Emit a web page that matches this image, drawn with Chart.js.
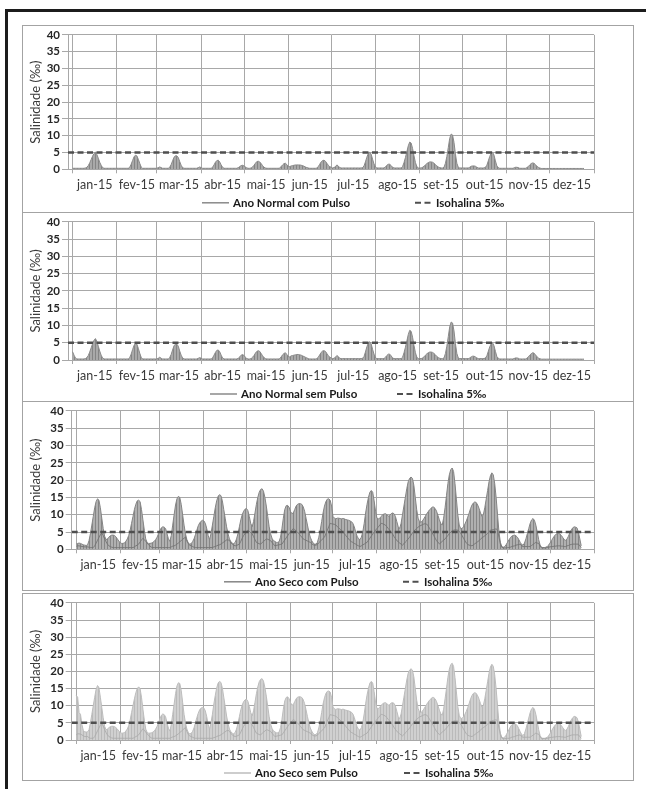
<!DOCTYPE html>
<html lang="pt">
<head>
<meta charset="utf-8">
<title>Salinidade 2015</title>
<script src="https://cdn.jsdelivr.net/npm/chart.js@4.4.1/dist/chart.umd.min.js"></script>
<style>
html,body{margin:0;padding:0;background:#fff;}
body{width:646px;height:789px;position:relative;overflow:hidden;}
#moldura{position:absolute;left:5px;top:9px;width:700px;height:800px;border-top:3px solid #1c1c1c;border-left:3px solid #1c1c1c;}
.painel{position:absolute;left:22px;width:612px;box-sizing:border-box;border:1px solid #a3a3a3;background:#fff;}
.painel canvas{display:block;}
</style>
</head>
<body>
<div id="moldura"></div>
<div class="painel" style="top:25px;height:188px"><canvas id="g1" width="610" height="186"></canvas></div>
<div class="painel" style="top:212px;height:190px"><canvas id="g2" width="610" height="188"></canvas></div>
<div class="painel" style="top:401px;height:190px"><canvas id="g3" width="610" height="188"></canvas></div>
<div class="painel" style="top:593px;height:188px"><canvas id="g4" width="610" height="186"></canvas></div>
<script>
// Eixo temporal: meses de 2015 (dia 0 = 1 de janeiro)
const meses = ['jan-15','fev-15','mar-15','abr-15','mai-15','jun-15','jul-15','ago-15','set-15','out-15','nov-15','dez-15'];
const diasNoMes = [31,28,31,30,31,30,31,31,30,31,30,31];
const isohalina = 5;

// Salinidade máxima diária (‰) — Ano Normal com Pulso
const altaNormalComPulso = [
  /* jan */ 0.3,0.3,0.3,0.3,0.3,0.3,0.3,0.3,0.3,0.4,0.6,1.1,1.9,2.9,3.9,4.7,5.1,4.4,3.3,2.1,1.2,0.5,0.3,0.3,0.3,0.3,0.3,0.3,0.3,0.3,0.3,
  /* fev */ 0.3,0.3,0.3,0.3,0.3,0.3,0.3,0.3,0.3,0.6,1.5,2.6,3.7,4.2,4.0,3.0,1.8,0.7,0.3,0.3,0.3,0.3,0.3,0.3,0.3,0.3,0.3,0.3,
  /* mar */ 0.3,0.5,0.7,0.5,0.3,0.3,0.3,0.3,0.3,0.6,1.4,2.5,3.6,4.0,4.0,3.5,2.3,1.2,0.5,0.3,0.3,0.3,0.3,0.3,0.3,0.3,0.3,0.3,0.3,0.5,0.7,
  /* abr */ 0.5,0.3,0.3,0.3,0.3,0.3,0.3,0.3,0.6,1.3,2.1,2.6,2.7,2.2,1.3,0.6,0.3,0.3,0.3,0.3,0.3,0.3,0.3,0.3,0.3,0.3,0.5,0.8,1.1,1.2,
  /* mai */ 1.0,0.7,0.4,0.3,0.3,0.4,0.7,1.2,1.8,2.3,2.4,2.2,1.7,1.1,0.6,0.4,0.3,0.3,0.3,0.3,0.3,0.3,0.3,0.3,0.3,0.4,0.8,1.3,1.7,1.8,1.4,
  /* jun */ 0.9,0.8,1.0,1.1,1.2,1.3,1.3,1.3,1.3,1.2,1.1,0.9,0.7,0.5,0.4,0.3,0.3,0.3,0.3,0.3,0.4,0.8,1.5,2.2,2.6,2.7,2.4,1.8,1.2,0.8,
  /* jul */ 0.6,0.4,0.5,0.8,1.3,1.0,0.5,0.4,0.4,0.4,0.4,0.4,0.4,0.4,0.4,0.4,0.4,0.4,0.4,0.4,0.4,0.4,0.5,1.0,2.2,3.6,4.7,5.1,4.5,3.0,1.6,
  /* ago */ 0.7,0.4,0.4,0.4,0.4,0.4,0.4,0.7,1.2,1.5,1.5,1.1,0.6,0.4,0.4,0.4,0.4,0.4,0.4,0.8,2.0,3.5,5.2,7.0,8.1,7.8,6.2,4.0,2.0,0.8,0.4,
  /* set */ 0.4,0.4,0.6,0.9,1.3,1.7,2.0,2.2,2.2,2.1,1.8,1.4,1.0,0.7,0.5,0.4,0.4,0.6,1.8,3.8,6.5,9.2,10.5,10.2,8.0,4.5,1.8,0.6,0.4,0.4,
  /* out */ 0.4,0.4,0.4,0.4,0.4,0.6,0.9,1.0,1.0,0.9,0.6,0.4,0.4,0.4,0.4,0.4,0.6,1.2,2.5,3.8,4.8,5.1,4.2,2.5,1.0,0.5,0.3,0.3,0.3,0.3,0.3,
  /* nov */ 0.3,0.3,0.3,0.3,0.3,0.4,0.6,0.6,0.5,0.3,0.3,0.3,0.3,0.3,0.5,0.8,1.3,1.7,1.9,1.8,1.4,0.9,0.6,0.4,0.25,0.25,0.25,0.25,0.25,0.25,
  /* dez */ 0.25,0.25,0.25,0.25,0.25,0.25,0.25,0.25,0.25,0.25,0.25,0.25,0.25,0.25,0.25,0.25,0.25,0.25,0.25,0.25,0.25,0.25,0.25,0.25,0.25
];

// Salinidade máxima diária (‰) — Ano Normal sem Pulso
const altaNormalSemPulso = [
  /* jan */ 2.4,1.4,0.6,0.3,0.3,0.3,0.3,0.3,0.3,0.4,0.7,1.3,2.3,3.5,4.7,5.7,6.2,5.4,4.0,2.6,1.4,0.6,0.3,0.3,0.3,0.3,0.3,0.3,0.3,0.3,0.3,
  /* fev */ 0.3,0.3,0.3,0.3,0.3,0.3,0.3,0.3,0.3,0.7,1.7,3.0,4.2,4.8,4.6,3.4,2.0,0.8,0.3,0.3,0.3,0.3,0.3,0.3,0.3,0.3,0.3,0.3,
  /* mar */ 0.3,0.5,0.8,0.5,0.3,0.3,0.3,0.3,0.3,0.7,1.6,2.9,4.1,4.6,4.6,4.0,2.6,1.4,0.6,0.3,0.3,0.3,0.3,0.3,0.3,0.3,0.3,0.3,0.3,0.5,0.7,
  /* abr */ 0.5,0.3,0.3,0.3,0.3,0.3,0.3,0.3,0.6,1.4,2.2,2.8,2.9,2.4,1.4,0.6,0.3,0.3,0.3,0.3,0.3,0.3,0.3,0.3,0.3,0.3,0.5,0.9,1.4,1.6,
  /* mai */ 1.3,0.8,0.4,0.3,0.3,0.4,0.8,1.3,2.0,2.5,2.7,2.5,1.9,1.2,0.7,0.4,0.3,0.3,0.3,0.3,0.3,0.3,0.3,0.3,0.3,0.4,0.9,1.5,1.9,2.1,1.6,
  /* jun */ 1.0,0.9,1.2,1.3,1.4,1.5,1.6,1.6,1.5,1.4,1.2,1.0,0.8,0.6,0.4,0.3,0.3,0.3,0.3,0.3,0.4,0.8,1.5,2.2,2.6,2.7,2.5,1.9,1.3,0.8,
  /* jul */ 0.6,0.4,0.5,0.8,1.3,1.0,0.5,0.4,0.4,0.4,0.4,0.4,0.4,0.4,0.4,0.4,0.4,0.4,0.4,0.4,0.4,0.4,0.5,1.0,2.3,3.8,4.9,5.3,4.7,3.1,1.7,
  /* ago */ 0.7,0.4,0.4,0.4,0.4,0.4,0.4,0.8,1.3,1.7,1.7,1.2,0.6,0.4,0.4,0.4,0.4,0.4,0.4,0.8,2.1,3.7,5.5,7.4,8.6,8.3,6.6,4.2,2.1,0.8,0.4,
  /* set */ 0.4,0.4,0.6,0.9,1.4,1.8,2.1,2.3,2.3,2.2,1.9,1.5,1.0,0.7,0.5,0.4,0.4,0.6,1.9,4.0,6.8,9.6,11.0,10.7,8.4,4.7,1.9,0.6,0.4,0.4,
  /* out */ 0.4,0.4,0.4,0.4,0.4,0.6,0.9,1.1,1.1,0.9,0.6,0.4,0.4,0.4,0.4,0.4,0.6,1.2,2.5,3.8,4.7,5.0,4.1,2.5,1.0,0.5,0.3,0.3,0.3,0.3,0.3,
  /* nov */ 0.3,0.3,0.3,0.3,0.3,0.4,0.6,0.6,0.5,0.3,0.3,0.3,0.3,0.3,0.5,0.9,1.4,1.8,2.1,2.0,1.5,1.0,0.6,0.4,0.25,0.25,0.25,0.25,0.25,0.25,
  /* dez */ 0.25,0.25,0.25,0.25,0.25,0.25,0.25,0.25,0.25,0.25,0.25,0.25,0.25,0.25,0.25,0.25,0.25,0.25,0.25,0.25,0.25,0.25,0.25,0.25,0.25
];

// Salinidade máxima diária (‰) — Ano Seco com Pulso
const altaSecoComPulso = [
  /* jan */ 1.5,1.7,1.8,1.7,1.5,1.3,1.2,1.1,1.3,2.5,4.5,7.0,9.5,12.0,13.8,14.6,14.2,12.0,9.0,6.0,3.8,2.8,3.0,3.5,3.9,4.1,4.1,4.0,3.6,3.0,2.4,
  /* fev */ 1.9,1.7,1.7,1.9,2.3,3.0,4.0,5.5,7.5,9.5,11.5,13.0,14.0,14.2,13.8,11.5,8.5,5.5,3.0,1.9,1.7,1.7,1.8,2.0,2.3,2.8,3.5,4.5,
  /* mar */ 5.5,6.2,6.5,6.4,6.0,4.5,3.0,2.3,4.0,7.0,10.0,12.8,14.6,15.3,15.0,13.0,10.0,7.0,4.5,2.8,1.8,1.5,1.6,2.2,3.0,4.2,5.5,6.8,7.6,8.1,8.4,
  /* abr */ 8.2,7.5,6.0,4.0,2.8,4.5,7.0,9.5,12.0,14.0,15.3,15.8,15.5,14.0,11.5,9.0,6.5,4.5,3.0,2.2,1.8,1.6,2.0,3.0,4.5,6.5,8.5,10.0,11.0,11.6,
  /* mai */ 11.8,11.2,9.5,7.5,6.5,8.0,10.5,13.0,15.0,16.5,17.3,17.5,16.8,15.0,12.5,9.5,6.5,4.5,3.2,2.5,2.3,2.0,2.0,2.2,3.5,6.0,9.0,11.5,12.6,12.7,12.2,
  /* jun */ 11.0,10.3,10.5,11.5,12.5,13.0,13.2,13.2,13.0,12.3,11.0,9.0,7.0,5.0,3.5,2.5,1.8,1.5,1.5,2.0,3.5,5.5,8.0,10.5,12.5,13.8,14.5,14.6,14.2,12.5,
  /* jul */ 9.5,9.0,8.8,9.0,9.0,8.9,8.8,8.9,8.8,8.6,8.5,8.4,8.2,8.0,7.5,6.5,5.0,3.8,3.0,2.8,3.5,5.0,7.5,10.5,13.0,15.0,16.5,17.0,16.5,14.0,11.0,
  /* ago */ 9.0,8.8,9.0,9.5,10.0,10.2,10.3,10.0,9.6,9.8,10.3,10.5,10.3,9.5,8.0,6.5,6.0,7.5,10.0,12.5,15.0,17.5,19.5,20.5,20.9,20.5,18.5,15.0,11.5,9.0,8.0,
  /* set */ 7.8,8.2,8.8,9.5,10.2,10.8,11.4,11.8,12.2,12.2,11.8,11.0,9.8,8.5,7.5,7.0,9.0,12.0,15.5,19.0,21.5,23.0,23.5,22.5,19.0,14.5,10.0,7.0,6.0,6.0,
  /* out */ 6.5,7.3,8.2,9.3,10.5,11.8,12.8,13.4,13.7,13.5,12.8,11.8,10.5,9.5,10.0,12.0,14.5,17.0,19.5,21.3,22.1,21.5,19.0,15.0,10.0,5.0,2.0,0.8,0.6,0.8,1.3,
  /* nov */ 2.0,2.7,3.3,3.8,4.0,4.1,3.9,3.5,2.8,2.0,1.4,1.2,1.8,3.0,4.5,6.0,7.5,8.5,8.9,8.4,7.0,5.0,2.8,1.2,0.6,0.5,0.5,0.6,0.8,1.2,
  /* dez */ 1.8,2.5,3.2,3.8,4.3,4.5,4.6,4.4,4.0,3.4,2.8,2.6,3.0,3.8,4.8,5.6,6.2,6.5,6.4,6.2,5.0,3.0,1.0
];

// Salinidade mínima diária (‰) — Ano Seco com Pulso
const baixaSecoComPulso = [
  /* jan */ 0.9,1.0,1.0,0.9,0.8,0.8,0.7,0.7,0.7,0.6,0.5,0.5,0.5,1.0,1.8,2.6,3.4,4.2,4.7,4.0,3.0,2.2,1.5,1.0,0.8,0.6,0.5,0.5,0.5,0.5,0.5,
  /* fev */ 0.5,0.5,0.5,0.5,0.5,0.5,0.5,0.5,0.5,0.5,0.7,1.0,1.2,1.5,2.1,2.7,3.2,2.8,2.3,1.8,1.3,0.9,0.6,0.5,0.5,0.5,0.5,0.5,
  /* mar */ 0.5,0.5,0.5,0.5,0.5,0.5,0.5,0.5,0.7,0.9,1.0,1.2,1.5,1.8,2.2,2.5,2.9,3.2,3.5,2.4,1.6,1.2,1.0,0.8,0.6,0.5,0.5,0.5,0.5,0.5,0.5,
  /* abr */ 0.5,0.5,0.5,0.5,0.5,0.5,0.5,0.7,0.8,1.0,1.2,1.3,1.5,1.8,2.1,2.4,2.7,2.7,2.6,1.9,1.5,1.2,1.0,1.1,1.3,1.5,2.3,3.2,4.0,4.5,
  /* mai */ 5.0,5.5,5.2,4.8,4.5,3.7,2.8,2.0,1.8,1.6,1.5,1.9,2.3,2.6,3.0,2.9,2.7,2.5,2.0,1.5,1.0,1.1,1.2,1.3,1.4,1.5,2.1,2.7,3.3,3.9,4.5,
  /* jun */ 5.0,5.5,6.0,5.7,5.3,5.0,4.5,4.0,3.5,3.0,2.8,2.6,2.4,2.2,2.0,1.6,1.3,1.2,1.2,1.4,1.9,2.3,2.7,3.1,3.5,4.5,5.5,6.5,7.5,7.4,
  /* jul */ 7.3,7.2,7.0,6.6,6.2,5.8,5.4,5.0,4.5,4.0,3.5,3.0,2.5,2.2,2.0,1.7,1.5,1.2,1.0,0.8,1.0,1.3,1.5,1.8,2.0,2.6,3.2,3.8,4.4,5.0,5.5,
  /* ago */ 6.0,6.5,7.0,7.5,7.4,7.2,7.0,6.5,6.0,5.5,5.0,4.4,3.7,3.1,2.5,2.2,1.8,1.5,1.2,1.6,2.1,2.5,3.0,3.5,4.1,4.7,5.2,5.7,6.0,6.4,6.7,
  /* set */ 6.9,7.1,7.3,7.4,7.3,6.8,6.1,5.4,4.7,4.0,3.2,2.5,2.0,1.6,1.9,2.3,2.6,3.0,3.5,4.0,4.5,5.0,5.3,5.5,5.6,5.6,5.5,5.2,4.6,4.0,
  /* out */ 3.2,2.5,1.8,1.4,1.2,1.1,1.0,1.3,1.6,1.9,2.2,2.5,2.9,3.3,3.6,3.9,4.2,4.6,5.1,5.5,5.6,5.7,5.8,5.9,5.5,3.5,1.5,0.6,0.4,0.4,0.4,
  /* nov */ 0.5,0.5,0.6,0.8,0.9,1.0,1.2,1.3,1.4,1.5,1.0,0.8,0.8,0.8,0.8,0.8,0.8,1.1,1.4,1.7,2.0,1.8,1.7,1.0,0.4,0.4,0.4,0.4,0.5,0.6,
  /* dez */ 0.7,0.8,0.8,0.9,0.9,1.0,1.0,1.0,0.9,0.9,0.8,0.8,1.0,1.1,1.3,1.4,1.5,1.5,1.5,1.5,1.5,1.0,0.5
];

// Salinidade máxima diária (‰) — Ano Seco sem Pulso
const altaSecoSemPulso = [
  /* jan */ 13.0,12.5,8.0,7.5,4.5,2.8,2.4,2.3,2.4,3.0,5.0,7.5,10.0,12.5,14.8,15.9,15.3,12.5,9.5,6.5,4.0,3.0,3.2,3.6,3.9,4.0,4.0,3.9,3.6,3.2,2.6,
  /* fev */ 2.2,2.0,2.0,2.2,2.6,3.2,4.2,5.8,8.0,10.0,12.0,13.8,15.0,15.5,15.0,12.5,9.0,5.8,3.2,2.2,2.0,2.0,2.1,2.3,2.6,3.2,4.0,5.0,
  /* mar */ 6.2,7.2,7.6,7.4,6.8,5.0,3.4,2.6,4.5,7.5,10.5,13.5,15.8,16.7,16.5,14.5,11.0,7.5,5.0,3.2,2.2,1.8,1.9,2.5,3.5,5.0,6.5,7.8,8.8,9.3,9.5,
  /* abr */ 9.3,8.5,6.8,4.5,3.2,5.0,7.5,10.5,13.0,15.2,16.6,17.1,16.8,15.2,12.5,9.8,7.0,4.8,3.2,2.4,2.0,1.8,2.2,3.2,4.8,6.8,8.8,10.2,11.2,11.7,
  /* mai */ 11.9,11.3,9.8,8.0,7.0,8.5,11.0,13.5,15.5,17.0,17.7,17.9,17.2,15.3,12.8,9.8,6.8,4.7,3.4,2.7,2.4,2.1,2.1,2.3,3.6,6.0,9.0,11.4,12.4,12.6,12.1,
  /* jun */ 11.0,10.2,10.3,11.2,12.0,12.5,12.6,12.6,12.4,11.8,10.6,8.8,6.8,5.0,3.5,2.6,1.9,1.6,1.6,2.1,3.5,5.5,8.0,10.5,12.3,13.6,14.2,14.3,14.0,12.4,
  /* jul */ 9.6,9.1,8.9,9.1,9.1,9.0,8.9,9.0,8.9,8.7,8.6,8.5,8.3,8.1,7.6,6.6,5.1,3.9,3.1,2.9,3.6,5.1,7.6,10.6,13.1,15.1,16.6,17.1,16.6,14.1,11.1,
  /* ago */ 9.2,9.2,9.6,10.1,10.6,10.8,10.9,10.6,10.2,10.3,10.8,10.9,10.7,9.9,8.4,6.8,6.2,7.6,10.0,12.5,15.0,17.5,19.5,20.4,20.8,20.4,18.4,15.0,11.6,9.2,8.2,
  /* set */ 8.0,8.4,9.0,9.7,10.4,11.0,11.6,12.0,12.4,12.4,12.0,11.2,10.0,8.7,7.7,7.2,9.0,12.0,15.0,18.3,20.6,22.0,22.4,21.5,18.2,14.0,9.8,7.2,6.3,6.3,
  /* out */ 6.8,7.5,8.4,9.5,10.7,12.0,13.0,13.6,13.8,13.6,12.9,11.9,10.6,9.6,10.1,12.0,14.5,17.0,19.5,21.3,22.1,21.5,19.0,15.0,10.0,5.0,2.0,0.8,0.6,0.8,1.4,
  /* nov */ 2.2,3.0,3.8,4.4,4.7,4.8,4.6,4.1,3.3,2.4,1.6,1.3,1.9,3.2,4.8,6.4,8.0,9.1,9.5,9.0,7.5,5.3,3.0,1.3,0.6,0.5,0.5,0.6,0.8,1.2,
  /* dez */ 1.9,2.6,3.4,4.0,4.5,4.8,4.9,4.7,4.2,3.6,3.0,2.8,3.2,4.0,5.0,5.9,6.5,6.9,6.8,6.5,5.3,3.2,1.0
];

// Salinidade mínima diária (‰) — Ano Seco sem Pulso
const baixaSecoSemPulso = [
  /* jan */ 1.5,1.8,1.8,1.7,1.5,1.2,1.0,1.0,1.0,0.7,0.5,0.5,0.5,1.0,1.8,2.7,3.5,4.3,4.8,4.1,3.0,2.2,1.5,1.0,0.8,0.6,0.5,0.5,0.5,0.5,0.5,
  /* fev */ 0.5,0.5,0.5,0.5,0.5,0.5,0.5,0.5,0.5,0.5,0.7,1.0,1.2,1.5,2.1,2.7,3.3,2.9,2.3,1.8,1.3,0.9,0.6,0.5,0.5,0.5,0.5,0.5,
  /* mar */ 0.5,0.5,0.5,0.5,0.5,0.5,0.5,0.5,0.7,0.9,1.0,1.2,1.5,1.8,2.2,2.5,2.9,3.3,3.6,2.5,1.6,1.2,1.0,0.8,0.6,0.5,0.5,0.5,0.5,0.5,0.5,
  /* abr */ 0.5,0.5,0.5,0.5,0.5,0.5,0.5,0.7,0.8,1.0,1.2,1.3,1.5,1.8,2.1,2.4,2.7,2.8,2.6,1.9,1.5,1.2,1.0,1.1,1.3,1.5,2.3,3.2,4.0,4.6,
  /* mai */ 5.1,5.6,5.3,4.9,4.5,3.7,2.8,2.0,1.8,1.6,1.5,1.9,2.3,2.6,3.0,2.9,2.7,2.5,2.0,1.5,1.0,1.1,1.2,1.3,1.4,1.5,2.1,2.7,3.3,3.9,4.5,
  /* jun */ 5.0,5.5,6.0,5.7,5.3,5.0,4.5,4.0,3.5,3.0,2.8,2.6,2.4,2.2,2.0,1.6,1.3,1.2,1.2,1.4,1.9,2.3,2.7,3.1,3.5,4.5,5.5,6.5,7.4,7.3,
  /* jul */ 7.2,7.1,6.9,6.6,6.2,5.8,5.4,5.0,4.5,4.0,3.5,3.0,2.5,2.2,2.0,1.7,1.5,1.2,1.0,0.8,1.0,1.3,1.5,1.8,2.0,2.6,3.2,3.8,4.4,5.0,5.5,
  /* ago */ 6.0,6.5,7.0,7.5,7.4,7.2,7.0,6.5,6.0,5.5,5.0,4.4,3.7,3.1,2.5,2.2,1.8,1.5,1.2,1.6,2.1,2.5,3.0,3.5,4.1,4.7,5.2,5.7,6.0,6.4,6.7,
  /* set */ 6.9,7.1,7.3,7.4,7.3,6.8,6.1,5.4,4.7,4.0,3.2,2.5,2.0,1.6,1.9,2.3,2.6,3.0,3.5,4.0,4.5,5.0,5.3,5.5,5.6,5.6,5.5,5.2,4.6,4.0,
  /* out */ 3.2,2.5,1.8,1.4,1.2,1.1,1.0,1.3,1.6,1.9,2.2,2.5,2.9,3.3,3.6,3.9,4.2,4.6,5.1,5.5,5.6,5.7,5.8,5.9,5.5,3.5,1.5,0.6,0.4,0.4,0.4,
  /* nov */ 0.5,0.5,0.6,0.8,0.9,1.0,1.2,1.3,1.4,1.5,1.0,0.8,0.8,0.8,0.8,0.8,0.8,1.1,1.4,1.7,2.0,1.8,1.7,1.0,0.4,0.4,0.4,0.4,0.5,0.6,
  /* dez */ 0.7,0.8,0.8,0.9,0.9,1.0,1.0,1.0,0.9,0.9,0.8,0.8,1.0,1.1,1.3,1.4,1.5,1.5,1.5,1.5,1.5,1.0,0.5
];

// ---- marcas do eixo x: início de cada mês (grade) e meio do mês (rótulo)
const iniciosMes = [0];
diasNoMes.forEach(n => iniciosMes.push(iniciosMes[iniciosMes.length - 1] + n));
const meiosMes = diasNoMes.map((n, i) => iniciosMes[i] + n / 2);
const rotuloDoMeio = new Map(meiosMes.map((v, i) => [v, meses[i]]));
const ehInicio = new Set(iniciosMes);
const X_MIN = -3.2, X_MAX = iniciosMes[12];

const FONTE = 'Lato, "Open Sans", sans-serif';
const COR_GRADE = '#a8a8a8';

function hachura(fundo, traco) {
  const c = document.createElement('canvas');
  c.width = 3; c.height = 4;
  const g = c.getContext('2d');
  g.fillStyle = fundo; g.fillRect(0, 0, 3, 4);
  g.fillStyle = traco; g.fillRect(0, 0, 1, 4);
  return g.createPattern(c, 'repeat');
}

const pontos = serie => serie.map((v, i) => ({ x: i, y: v }));

// legenda desenhada sob o eixo: cada item começa na posição x indicada
const legendaInferior = {
  id: 'legendaInferior',
  afterDraw(chart, args, opts) {
    const ctx = chart.ctx;
    const itens = chart.data.datasets.filter(d => !d.semLegenda);
    ctx.save();
    ctx.font = 'bold 11.5px ' + FONTE;
    const y = chart.chartArea.bottom + opts.distancia;
    itens.forEach((d, i) => {
      const x = opts.inicios[i];
      ctx.strokeStyle = d.corLegenda || d.borderColor;
      ctx.lineWidth = d.espessuraLegenda || d.borderWidth;
      ctx.setLineDash(d.borderDash || []);
      ctx.beginPath();
      ctx.moveTo(x, y + 0.5);
      ctx.lineTo(x + d.amostraLegenda, y + 0.5);
      ctx.stroke();
      ctx.setLineDash([]);
      ctx.fillStyle = '#1a1a1a';
      ctx.textAlign = 'left';
      ctx.textBaseline = 'middle';
      ctx.fillText(d.label, x + d.amostraLegenda + opts.folga, y + 1);
    });
    ctx.restore();
  }
};

function painel(cfg) {
  const conjuntos = [
    {
      label: 'Isohalina 5‰',
      data: [{ x: X_MIN, y: isohalina }, { x: X_MAX, y: isohalina }],
      borderColor: '#4f4f4f', borderWidth: 2.5, borderDash: [6, 3.5],
      espessuraLegenda: 2, amostraLegenda: 17, pointRadius: 0, fill: false, order: 0
    }
  ];
  if (cfg.baixa) {
    conjuntos.push({
      label: cfg.rotulo + ' (mínima)', semLegenda: true,
      data: pontos(cfg.baixa), borderColor: cfg.corBaixa, borderWidth: 0.9,
      pointRadius: 0, fill: false, order: 1
    });
  }
  conjuntos.push({
    label: cfg.rotulo,
    data: pontos(cfg.alta), borderColor: cfg.cor, borderWidth: 1,
    corLegenda: cfg.cor, espessuraLegenda: 1.5, amostraLegenda: 27,
    backgroundColor: hachura(cfg.fundo, cfg.traco), fill: 'origin',
    pointRadius: 0, order: 2
  });
  // a legenda lista a série principal antes da isohalina
  conjuntos.sort((p, q) => (p.semLegenda ? 1 : 0) - (q.semLegenda ? 1 : 0) || q.order - p.order);

  new Chart(document.getElementById(cfg.id), {
    type: 'line',
    data: { datasets: conjuntos },
    options: {
      responsive: false, animation: false, devicePixelRatio: 1,
      parsing: false, normalized: true,
      layout: { padding: { left: 0, right: 39, top: cfg.topo, bottom: 0 } },
      elements: { line: { tension: 0 } },
      plugins: {
        legend: { display: false }, tooltip: { enabled: false },
        legendaInferior: { folga: 4, distancia: cfg.distLegenda, inicios: cfg.legenda }
      },
      scales: {
        x: {
          type: 'linear', min: X_MIN, max: X_MAX,
          afterBuildTicks(s) {
            s.ticks = [...iniciosMes, ...meiosMes].sort((p, q) => p - q).map(v => ({ value: v }));
          },
          afterFit(s) { s.height = cfg.alturaX; },
          ticks: {
            autoSkip: false, maxRotation: 0, minRotation: 0, padding: 4,
            color: '#3a3a3a', font: { family: FONTE, size: 12.5 },
            callback: v => rotuloDoMeio.get(v) || ''
          },
          grid: {
            color: c => (c.tick && ehInicio.has(c.tick.value)) ? COR_GRADE : 'rgba(0,0,0,0)',
            tickLength: 4
          },
          border: { color: COR_GRADE }
        },
        y: {
          min: 0, max: 40,
          afterFit(s) { s.width = cfg.larguraY; },
          ticks: { stepSize: 5, padding: 2, color: '#262626', font: { family: FONTE, size: 11.5, weight: 'bold' } },
          grid: { color: COR_GRADE, tickLength: 6 },
          border: { color: COR_GRADE },
          title: {
            display: true, text: 'Salinidade (‰)', color: '#3a3a3a',
            font: { family: FONTE, size: 13 }, padding: { top: 5, bottom: 0 }
          }
        }
      }
    },
    plugins: [legendaInferior]
  });
}

painel({ id: 'g1', rotulo: 'Ano Normal com Pulso', alta: altaNormalComPulso, baixa: null,
  cor: '#8a8a8a', fundo: '#a9a9a9', traco: '#858585',
  larguraY: 45, topo: 6.3, alturaX: 42.7, distLegenda: 33, legenda: [179, 392] });
painel({ id: 'g2', rotulo: 'Ano Normal sem Pulso', alta: altaNormalSemPulso, baixa: null,
  cor: '#8a8a8a', fundo: '#a9a9a9', traco: '#858585',
  larguraY: 45, topo: 7.7, alturaX: 41, distLegenda: 33.5, legenda: [187, 374] });
painel({ id: 'g3', rotulo: 'Ano Seco com Pulso', alta: altaSecoComPulso, baixa: baixaSecoComPulso,
  cor: '#858585', fundo: '#b0b0b0', traco: '#868686', corBaixa: '#747474',
  larguraY: 48.7, topo: 8, alturaX: 40.7, distLegenda: 32, legenda: [201, 380] });
painel({ id: 'g4', rotulo: 'Ano Seco sem Pulso', alta: altaSecoSemPulso, baixa: baixaSecoSemPulso,
  cor: '#bdbdbd', fundo: '#d0d0d0', traco: '#bababa', corBaixa: '#ababab',
  larguraY: 48.7, topo: 6, alturaX: 40, distLegenda: 32.5, legenda: [201, 381] });
</script>
</body>
</html>
